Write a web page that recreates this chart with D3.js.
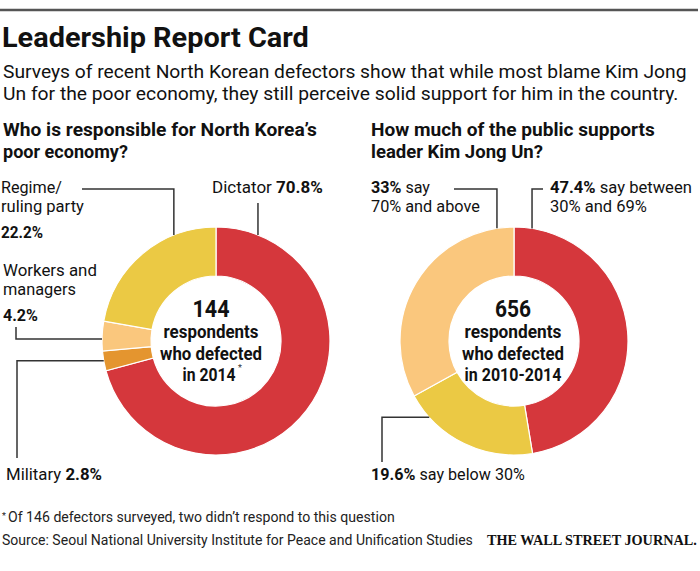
<!DOCTYPE html>
<html>
<head>
<meta charset="utf-8">
<script src="https://cdn.jsdelivr.net/npm/d3@7"></script>
<style>
  html, body { margin: 0; padding: 0; background: #fff; }
  svg { display: block; }
  text { font-family: Roboto, "Liberation Sans", sans-serif; fill: #111; }
</style>
</head>
<body>
<svg id="chart" width="700" height="571"></svg>
<script>
// ---------- DATA ----------
const leftCategories = ["Dictator", "Military", "Workers and managers", "Regime/ruling party"];
const leftValues = [70.8, 2.8, 4.2, 22.2];
const leftRespondents = "144";

const rightCategories = ["Between 30% and 69%", "Below 30%", "70% and above"];
const rightValues = [47.4, 19.6, 33];
const rightRespondents = "656";

// ---------- STYLE / LAYOUT ----------
const leftColors = ["#d5373c", "#e4952f", "#fac77d", "#ebc944"];
const rightColors = ["#d5373c", "#ebc944", "#fac77d"];
const outerR = 114, innerR = 65;
const svg = d3.select("#chart");

// condense a text horizontally to a target width (narrow-face look)
function fit(t, w) {
  if (!w) return t;
  const n = t.node();
  const len = n.getComputedTextLength();
  const x = +t.attr("x") || 0, y = +t.attr("y") || 0;
  t.attr("x", 0).attr("y", 0)
   .attr("transform", `translate(${x},${y}) scale(${(w / len).toFixed(4)},1)`);
  return t;
}

// top rule
svg.append("line").attr("x1", 0).attr("x2", 698).attr("y1", 10).attr("y2", 10)
  .attr("stroke", "#555").attr("stroke-width", 2.5);

// title + subtitle
fit(svg.append("text").attr("x", 2).attr("y", 47)
  .style("font-size", "27px").style("font-weight", "bold")
  .text("Leadership Report Card"), 307);
fit(svg.append("text").attr("x", 3).attr("y", 78).style("font-size", "18.5px")
  .text("Surveys of recent North Korean defectors show that while most blame Kim Jong"), 684);
fit(svg.append("text").attr("x", 3).attr("y", 100).style("font-size", "18.5px")
  .text("Un for the poor economy, they still perceive solid support for him in the country."), 676);

// section headings
function heading(x, y, str, len) {
  fit(svg.append("text").attr("x", x).attr("y", y)
    .style("font-size", "18px").style("font-weight", "bold").text(str), len);
}
heading(3, 136, "Who is responsible for North Korea\u2019s", 314);
heading(3, 158, "poor economy?", 125);
heading(371, 136, "How much of the public supports", 284);
heading(371, 158, "leader Kim Jong Un?", 172);

// ---------- DONUTS ----------
const pie = d3.pie().sort(null).value(d => d);
const arc = d3.arc().innerRadius(innerR).outerRadius(outerR);

function donut(cx, cy, values, colors) {
  const g = svg.append("g").attr("transform", `translate(${cx},${cy})`);
  g.selectAll("path").data(pie(values)).join("path")
    .attr("d", arc)
    .attr("fill", (d, i) => colors[i])
    .attr("stroke", "#fff").attr("stroke-width", 1.2);
  return g;
}
const L = { cx: 216, cy: 341 }, R = { cx: 514, cy: 341 };
donut(L.cx, L.cy, leftValues, leftColors);
donut(R.cx, R.cy, rightValues, rightColors);

// point on outer edge at a given angle (degrees, clockwise from top)
function edge(c, deg) {
  const a = deg * Math.PI / 180;
  return [c.cx + outerR * Math.sin(a), c.cy - outerR * Math.cos(a)];
}
function leader(pts) {
  svg.append("path").attr("d", d3.line()(pts))
    .attr("fill", "none").attr("stroke", "#333").attr("stroke-width", 1.5);
}

// center labels
function centerText(cx, num, lines, widths) {
  fit(svg.append("text").attr("x", cx).attr("y", 317).attr("text-anchor", "middle")
    .style("font-size", "23px").style("font-weight", "bold").text(num), widths[0]);
  lines.forEach((l, i) => {
    fit(svg.append("text").attr("x", cx - (l[1] || 0)).attr("y", 338 + i * 21.5).attr("text-anchor", "middle")
      .style("font-size", "18px").style("font-weight", "bold").text(l[0]), widths[i + 1]);
  });
}
centerText(211, leftRespondents, [["respondents"], ["who defected"], ["in 2014", 2]], [37, 95, 102, 53]);
svg.append("text").attr("x", 238).attr("y", 371).style("font-size", "9px").style("fill", "#333").text("*");
centerText(513, rightRespondents, [["respondents"], ["who defected"], ["in 2010-2014"]], [36, 97, 102, 97]);

// mixed label helper
function label(x, y, parts, w) {
  const t = svg.append("text").attr("x", x).attr("y", y).style("font-size", "16.5px");
  parts.forEach(p => t.append("tspan").style("font-weight", p[1] ? "bold" : "normal").text(p[0]));
  return fit(t, w);
}
const pct = v => v + "%";

// Left labels
label(212, 193, [[leftCategories[0] + " ", 0], [pct(leftValues[0]), 1]], 111);
{ const e = edge(L, 21.6); leader([[e[0], 203], e]); }
label(1, 193, [["Regime/", 0]], 61);
label(1, 212, [["ruling party", 0]], 83);
label(1, 238, [[pct(leftValues[3]), 1]], 42);
{ const e = edge(L, 338.3); leader([[82, 189], [e[0], 189], e]); }
label(3, 276, [["Workers and", 0]], 94);
label(3, 295, [["managers", 0]], 73);
label(3, 321, [[pct(leftValues[2]), 1]], 35);
{ const e = edge(L, 271); leader([[16, 327], [16, e[1]], e]); }
label(6, 480, [[leftCategories[1] + " ", 0], [pct(leftValues[1]), 1]], 96);
{ const e = edge(L, 260); leader([[17, 458], [17, e[1]], e]); }

// Right labels
label(371, 193, [[pct(rightValues[2]), 1], [" say", 0]], 59);
label(371, 212, [["70% and above", 0]], 109);
{ const e = edge(R, 351.4); leader([[454, 189], [e[0], 189], e]); }
label(550, 193, [[pct(rightValues[0]), 1], [" say between", 0]], 142);
label(550, 212, [["30% and 69%", 0]], 97);
{ const e = edge(R, 9.1); leader([[543, 189], [e[0], 189], e]); }
label(371, 480, [[pct(rightValues[1]), 1], [" say below 30%", 0]], 154);
{ const e = edge(R, 228); leader([[382, 462], [382, e[1]], e]); }

// Footer
svg.append("text").attr("x", 2).attr("y", 519).style("font-size", "9px").style("fill", "#222").text("*");
fit(svg.append("text").attr("x", 8).attr("y", 522).style("font-size", "14.5px").style("fill", "#222")
  .text("Of 146 defectors surveyed, two didn\u2019t respond to this question"), 387);
fit(svg.append("text").attr("x", 2).attr("y", 545).style("font-size", "14.5px").style("fill", "#222")
  .text("Source: Seoul National University Institute for Peace and Unification Studies"), 471);
fit(svg.append("text").attr("x", 487).attr("y", 545)
  .style("font-family", "'Liberation Serif', 'DejaVu Serif', serif").style("font-size", "15px").style("font-weight", "bold")
  .text("THE WALL STREET JOURNAL."), 210);
</script>
</body>
</html>
